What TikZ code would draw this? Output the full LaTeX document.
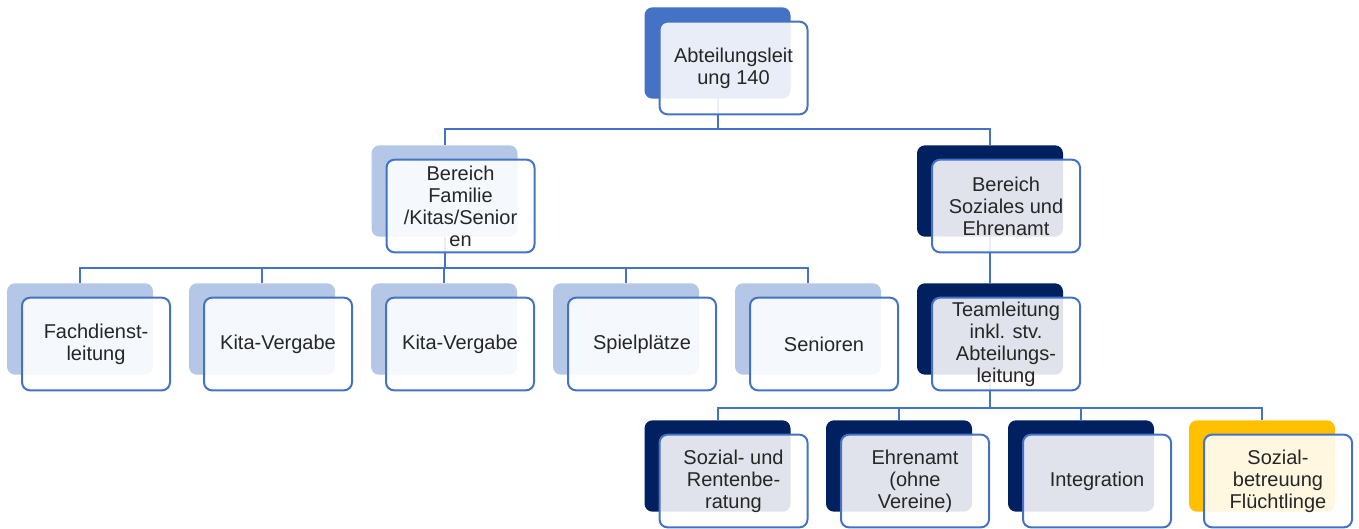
\documentclass[tikz,border=0pt]{standalone}
\usepackage{fontspec}
\setmainfont{Liberation Sans}
\usetikzlibrary{positioning,calc}

\definecolor{accblue}{HTML}{4472C4}
\definecolor{paleblue}{HTML}{B4C7E7}
\definecolor{navy}{HTML}{002060}
\definecolor{gold}{HTML}{FFC000}
\definecolor{inktext}{HTML}{262626}

\begin{document}
\begin{tikzpicture}[x=0.75pt, y=-0.75pt,
    backcard/.style={rectangle, rounded corners=6pt, minimum width=109.5pt, minimum height=68.5pt, inner sep=0pt},
    frontcard/.style={rectangle, rounded corners=6pt, draw=accblue, line width=1.5pt, fill=white, fill opacity=0.88, text opacity=1,
      minimum width=111pt, minimum height=69.5pt, inner sep=1pt, align=center, text=inktext, font=\fontsize{15}{16.5}\selectfont},
    conn/.style={draw=accblue, line width=1.5pt}]
  \useasboundingbox (0,0) rectangle (1359,528);
  % back cards
  \node[backcard, fill=accblue] (lead) at (717.5,53) {};
  \node[backcard, fill=paleblue] (fam) at (444.5,191) {};
  \node[backcard, fill=navy] (soz) at (990,191) {};
  \foreach \n/\x in {fach/80, kitaA/262, kitaB/444, spiel/626, sen/808}
    {\node[backcard, fill=paleblue] (\n) at (\x,329) {};}
  \node[backcard, fill=navy] (team) at (990,329) {};
  \foreach \n/\x/\c in {rente/717.5/navy, ehren/899/navy, integ/1081/navy, fluecht/1262/gold}
    {\node[backcard, fill=\c] (\n) at (\x,466) {};}
  % connectors
  \draw[conn] (lead.south) -- ++(0,30) -| (fam.north);
  \draw[conn] (lead.south) -- ++(0,30) -| (soz.north);
  \foreach \n in {fach, kitaA, kitaB, spiel, sen}
    {\draw[conn] (fam.south) -- ++(0,31) -| (\n.north);}
  \draw[conn] (soz.south) -- (team.north);
  \foreach \n in {rente, ehren, integ, fluecht}
    {\draw[conn] (team.south) -- ++(0,33) -| (\n.north);}
  % front cards
  \node[frontcard] (lead-f) at ($(lead)+(16,15)$) {Abteilungsleit\\ung 140};
  \node[frontcard] (fam-f) at ($(fam)+(16,15)$) {Bereich\\Familie\\/Kitas/Senior\\en};
  \node[frontcard] (soz-f) at ($(soz)+(16,15)$) {Bereich\\Soziales und\\Ehrenamt};
  \foreach \n/\t in {fach/{Fachdienst-\\leitung}, kitaA/Kita-Vergabe, kitaB/Kita-Vergabe, spiel/Spielplätze, sen/Senioren}
    {\node[frontcard] (\n-f) at ($(\n)+(16,15)$) {\t};}
  \node[frontcard] (team-f) at ($(team)+(16,15)$) {Teamleitung\\inkl. stv.\\Abteilungs-\\leitung};
  \foreach \n/\t in {rente/{Sozial- und\\Rentenbe-\\ratung}, ehren/{Ehrenamt\\(ohne\\Vereine)}, integ/Integration, fluecht/{Sozial-\\betreuung\\Flüchtlinge}}
    {\node[frontcard] (\n-f) at ($(\n)+(16,15)$) {\t};}
\end{tikzpicture}
\end{document}
